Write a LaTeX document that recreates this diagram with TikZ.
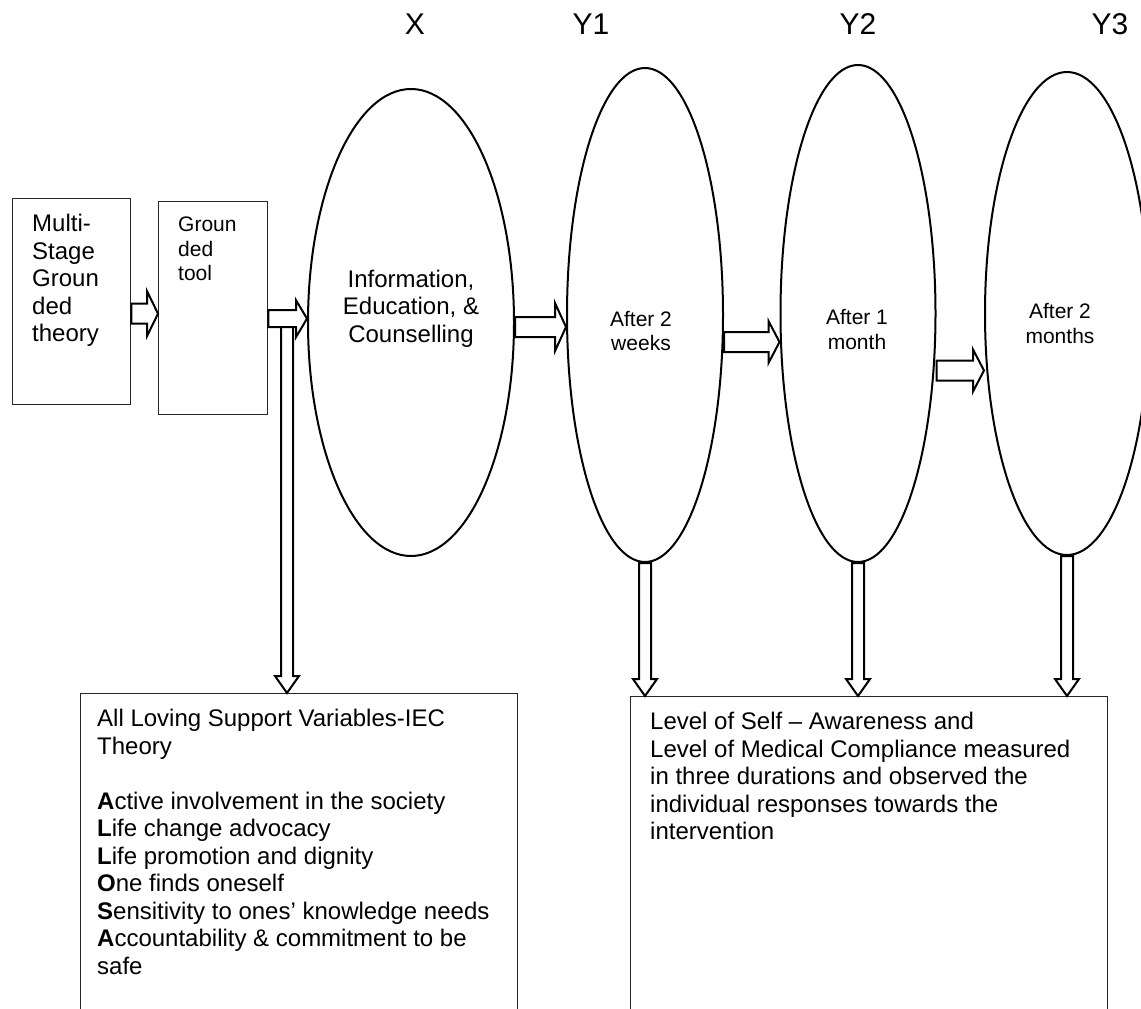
\documentclass[tikz,border=0pt]{standalone}
\usepackage{fontspec}
\setmainfont{Liberation Sans}
\usetikzlibrary{shapes.geometric,calc}

% hollow block arrows
\newcommand{\rightblock}[4]{%
  \draw[blockline] let \p1=(#1), \p2=(#2) in
    (\x1,\y1+#3) -- (\x2-11pt,\y1+#3) -- (\x2-11pt,\y1+#4) -- (\x2,\y1)
    -- (\x2-11pt,\y1-#4) -- (\x2-11pt,\y1-#3) -- (\x1,\y1-#3) -- cycle;}
\newcommand{\downblock}[2]{%
  \draw[blockline] let \p1=(#1), \p2=(#2) in
    (\x1-6pt,\y1) -- (\x1-6pt,\y2+17pt) -- (\x1-12pt,\y2+17pt) -- (\x1,\y2)
    -- (\x1+12pt,\y2+17pt) -- (\x1+6pt,\y2+17pt) -- (\x1+6pt,\y1) -- cycle;}

\begin{document}
\begin{tikzpicture}[x=1pt,y=-1pt,
    frame/.style={draw=black!85,line width=1.3pt,anchor=north west,inner sep=0pt},
    oval/.style={draw,ellipse,line width=2pt,inner sep=0pt},
    blockline/.style={draw,fill=white,line width=2pt,line join=miter},
    txt/.style={inner sep=0pt,align=left,anchor=north west},
    big/.style={font=\fontsize{24}{27.5}\selectfont},
    small/.style={font=\fontsize{21}{24.5}\selectfont}]
	\useasboundingbox (0,0) rectangle (1141,1009);
	\fill[white] (0,0) rectangle (1141,1009);
	\clip (0,0) rectangle (1141,1009);
	
	\foreach \name/\xpos/\lab in {lx/415/X, ly1/591/Y1, ly2/858/Y2, ly3/1110/Y3}{
		\node[font=\fontsize{30}{36}\selectfont] (\name) at (\xpos,24) {\lab};
	}
	
	% boxes on the left
	\node[frame,minimum width=118pt,minimum height=206pt] (mg) at (12,198) {};
	\node[txt,big] (mgt) at (32,214) {Multi-\\Stage\\Groun\\ded\\theory};
	\node[frame,minimum width=109pt,minimum height=213pt] (gt) at (158,201) {};
	\node[txt,small] (gtt) at (178,217) {Groun\\ded\\tool};
	
	% the four stages
	\node[oval,minimum width=206pt,minimum height=467pt] (x) at (411,322.5) {};
	\node[oval,minimum width=156pt,minimum height=494pt] (y1) at (645,315) {};
	\node[oval,minimum width=155pt,minimum height=497pt] (y2) at (858,313.5) {};
	\node[oval,minimum width=164pt,minimum height=483pt] (y3) at (1067,313.5) {};
	\node[big,align=center] (xt) at ($(x.center)+(0,-14)$) {Information,\\Education, \&\\Counselling};
	\node[small,align=center] (y1t) at (641,331) {After 2\\weeks};
	\node[small,align=center] (y2t) at (857,329.5) {After 1\\month};
	\node[small,align=center] (y3t) at (1060,323.5) {After 2\\months};
	
	% boxes at the bottom
	\node[frame,minimum width=437pt,minimum height=340pt] (alsv) at (80,693) {};
	\node[txt,big] (alsvt) at (97,709) {All Loving Support Variables-IEC\\Theory\\[27.5pt]
		\textbf{A}ctive involvement in the society\\
		\textbf{L}ife change advocacy\\
		\textbf{L}ife promotion and dignity\\
		\textbf{O}ne finds oneself\\
		\textbf{S}ensitivity to ones’ knowledge needs\\
		\textbf{A}ccountability \& commitment to be\\
		safe};
	\node[frame,minimum width=477pt,minimum height=340pt] (res) at (630,696) {};
	\node[txt,big] (rest) at (650,712) {Level of Self – Awareness and\\
		Level of Medical Compliance measured\\
		in three durations and observed the\\
		individual responses towards the\\
		intervention};
	
	% arrows
	\coordinate (branch) at (287,325);
	\downblock{branch}{branch |- alsv.north}
	\rightblock{$(mg.east)+(0,12)$}{$(gt.west)+(0,12)$}{10pt}{22.5pt}
	\rightblock{$(gt.east)+(0,10.5)$}{$(x.west)+(0,-4.5)$}{8.5pt}{18.5pt}
	\rightblock{$(x.east)+(0,4.5)$}{$(y1.west)+(0,12)$}{10pt}{24pt}
	\rightblock{$(y1.east)+(0,27)$}{$(y2.west)+(0,28.5)$}{10pt}{21pt}
	\rightblock{$(y2.east)+(0,57)$}{$(y3.west)+(0,56.5)$}{10pt}{21pt}
	\downblock{y1.south}{y1.south |- res.north}
	\downblock{y2.south}{y2.south |- res.north}
	\downblock{y3.south}{y3.south |- res.north}
\end{tikzpicture}
\end{document}
